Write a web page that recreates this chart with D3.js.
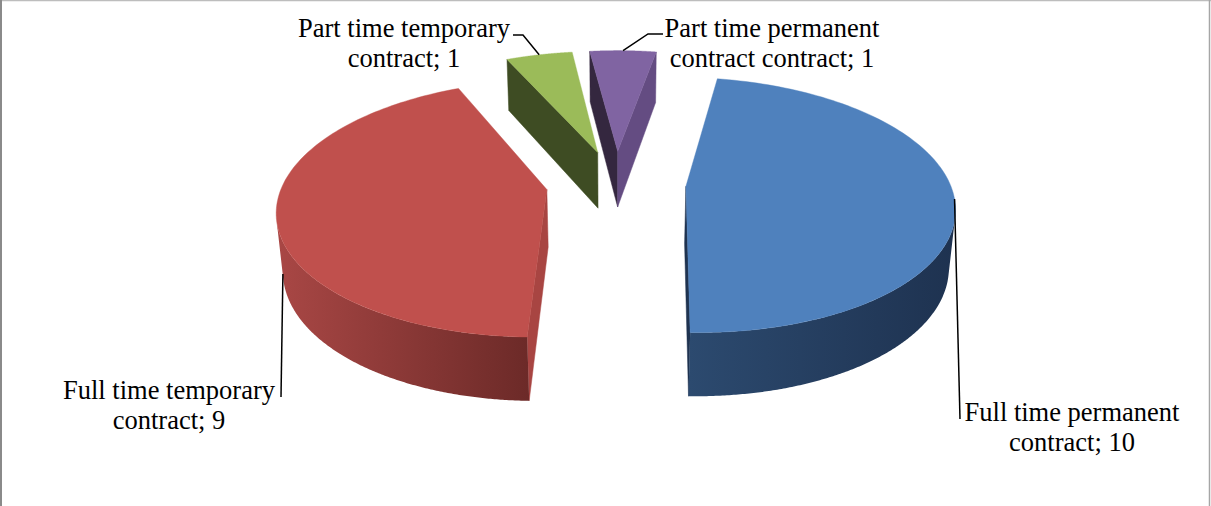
<!DOCTYPE html>
<html>
<head>
<meta charset="utf-8">
<script src="https://cdn.jsdelivr.net/npm/d3@7"></script>
<style>
  html, body { margin: 0; padding: 0; background: #ffffff; }
  svg { display: block; }
</style>
</head>
<body>
<svg id="chart" width="1211" height="506"></svg>
<script>
// ---- data ----
const categories = [
  "Full time permanent contract",
  "Full time temporary contract",
  "Part time temporary contract",
  "Part time permanent contract contract"
];
const values = [10, 9, 1, 1];

// ---- styling ----
const topColors   = ["#4f81bd", "#c0504d", "#9bbb59", "#8064a2"];
const sideLight   = ["#2c4a6f", "#a94745", "#4a5c2a", "#4a3a60"];
const sideDark    = ["#1e3250", "#6c2a28", "#3a4820", "#3a2c4c"];
const startWall   = ["#22395a", "#a84542", "#3e4c23", "#34273f"];
const endWall     = ["#1f3350", "#8a3634", "#3e4c23", "#644c82"];

// 3D view of the pie (pixels at the pie centre's depth)
const view = {
  cx: 616, cy: 183,
  radius: 264,
  tilt: 28 * Math.PI / 180,
  dist: 1600,
  depth: 66,
  explode: 70,
  start: 10 * Math.PI / 180
};

// label layout: centre x, first baseline, leader route
const labelLayout = [
  { x: 1072, y: 421, anchor: "top",    route: [[960, 419]] },
  { x: 169,  y: 399, anchor: "bottom", route: [[281, 397]] },
  { x: 404,  y: 37,  anchor: "top",    route: [[513, 35], [523, 35]] },
  { x: 772,  y: 37,  anchor: "top",    route: [[663, 34], [648, 34]] }
];

const svg = d3.select("#chart");
const W = 1211, H = 506;

// frame edges
svg.append("line").attr("x1", 0).attr("x2", W).attr("y1", 0.5).attr("y2", 0.5)
  .attr("stroke", "#bdbdbd").attr("stroke-width", 1.5);
svg.append("line").attr("x1", 1).attr("x2", 1).attr("y1", 0).attr("y2", H)
  .attr("stroke", "#8a8a8a").attr("stroke-width", 2);
svg.append("line").attr("x1", 1209.5).attr("x2", 1209.5).attr("y1", 0).attr("y2", H)
  .attr("stroke", "#a6a6a6").attr("stroke-width", 1.5);

const sT = Math.sin(view.tilt), cT = Math.cos(view.tilt);
const camera = [0, view.dist * sT, -view.dist * cT];

function project(X, Y, Z) {
  const yv = Y * cT + Z * sT;
  const zv = Z * cT - Y * sT;
  const k = view.dist / (view.dist + zv);
  return [view.cx + X * k, view.cy - yv * k];
}

const pie = d3.pie().sort(null).value(d => d)
  .startAngle(view.start).endAngle(view.start + 2 * Math.PI);
const arcs = pie(values);

const defs = svg.append("defs");
const line = d3.line();

const slices = arcs.map((a, i) => {
  const mid = (a.startAngle + a.endAngle) / 2;
  const ox = view.explode * Math.sin(mid);
  const oz = view.explode * Math.cos(mid);
  const pt = (ang, r, Y) => [ox + r * Math.sin(ang), Y, oz + r * Math.cos(ang)];
  return { a, i, mid, ox, oz, pt };
});

function facing(normal, P) {
  return normal[0] * (camera[0] - P[0]) + normal[1] * (camera[1] - P[1]) + normal[2] * (camera[2] - P[2]) > 0;
}

const pieG = svg.append("g");

// far slices first
slices.slice().sort((p, q) => q.oz - p.oz).forEach(s => {
  const { a, i, pt } = s;
  const R = view.radius, h = view.depth;
  const g = pieG.append("g");
  const P = p => project(p[0], p[1], p[2]);

  // radial wall at the start edge
  const sa = a.startAngle;
  const nStart = [-Math.cos(sa), 0, Math.sin(sa)];
  if (facing(nStart, pt(sa, R / 2, -h / 2))) {
    g.append("path")
      .attr("d", line([P(pt(sa, 0, 0)), P(pt(sa, R, 0)), P(pt(sa, R, -h)), P(pt(sa, 0, -h))]) + "Z")
      .attr("fill", startWall[i]).attr("stroke", startWall[i]).attr("stroke-width", 0.5);
  }
  // radial wall at the end edge
  const ea = a.endAngle;
  const nEnd = [Math.cos(ea), 0, -Math.sin(ea)];
  if (facing(nEnd, pt(ea, R / 2, -h / 2))) {
    g.append("path")
      .attr("d", line([P(pt(ea, 0, 0)), P(pt(ea, R, 0)), P(pt(ea, R, -h)), P(pt(ea, 0, -h))]) + "Z")
      .attr("fill", endWall[i]).attr("stroke", endWall[i]).attr("stroke-width", 0.5);
  }

  // outer curved wall, visible stretch only
  const steps = 400;
  const vis = [];
  for (let k = 0; k <= steps; k++) {
    const ang = sa + (ea - sa) * k / steps;
    const n = [Math.sin(ang), 0, Math.cos(ang)];
    if (facing(n, pt(ang, R, -h / 2))) vis.push(ang);
  }
  if (vis.length > 1) {
    const topPts = vis.map(ang => P(pt(ang, R, 0)));
    const botPts = vis.map(ang => P(pt(ang, R, -h))).reverse();
    const gid = "side" + i;
    const grad = defs.append("linearGradient").attr("id", gid)
      .attr("x1", 0).attr("x2", 1).attr("y1", 0).attr("y2", 0);
    grad.append("stop").attr("offset", 0).attr("stop-color", sideLight[i]);
    grad.append("stop").attr("offset", 1).attr("stop-color", sideDark[i]);
    g.append("path")
      .attr("d", line(topPts.concat(botPts)) + "Z")
      .attr("fill", `url(#${gid})`);
  }

  // top face
  const rim = d3.range(0, 121).map(k => P(pt(sa + (ea - sa) * k / 120, R, 0)));
  g.append("path")
    .attr("d", line([P(pt(0, 0, 0))].concat(rim)) + "Z")
    .attr("fill", topColors[i]).attr("stroke", topColors[i]).attr("stroke-width", 0.4);
});

// data labels with leader lines
const labelG = svg.append("g")
  .attr("font-family", "'Liberation Serif', 'Times New Roman', serif")
  .attr("font-size", 26.5).attr("fill", "#000");

slices.forEach(s => {
  const L = labelLayout[s.i];
  const words = categories[s.i].split(" ");
  const lines = [words.slice(0, 3).join(" "), words.slice(3).join(" ") + "; " + values[s.i]];
  const t = labelG.append("text").attr("text-anchor", "middle");
  lines.forEach((txt, j) => {
    t.append("tspan").attr("x", L.x).attr("y", L.y + j * 30).text(txt);
  });
  const Y = L.anchor === "top" ? 0 : -view.depth;
  const p3 = s.pt(s.mid, view.radius, Y);
  const end = project(p3[0], p3[1], p3[2]);
  labelG.append("path")
    .attr("d", line(L.route.concat([end])))
    .attr("fill", "none").attr("stroke", "#000").attr("stroke-width", 1.5);
});
</script>
</body>
</html>
